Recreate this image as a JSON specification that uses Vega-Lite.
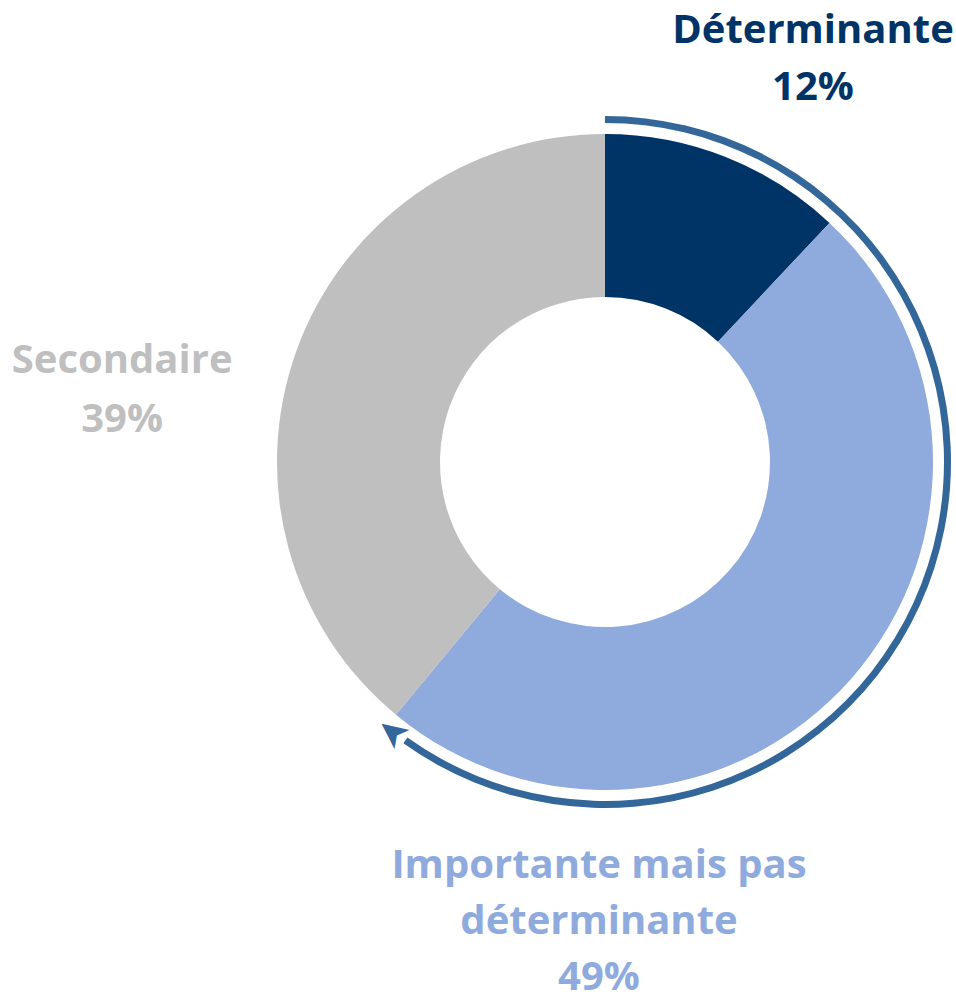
{
  "$schema": "https://vega.github.io/schema/vega-lite/v6.json",
  "width": 702,
  "height": 924,
  "autosize": {"type": "none"},
  "padding": {"left": 254, "top": 0, "right": 0, "bottom": 72},
  "background": "white",
  "config": {"view": {"stroke": null}},
  "datasets": {
    "parts": [
      {"categorie": "Déterminante", "valeur": 12, "etiquette": "Déterminante\n12%"},
      {"categorie": "Importante mais pas déterminante", "valeur": 49, "etiquette": "Importante mais pas\ndéterminante\n49%"},
      {"categorie": "Secondaire", "valeur": 39, "etiquette": "Secondaire\n39%"}
    ],
    "fleche": [{"debut": 0, "fin": 59.9, "pointe": 60.6}]
  },
  "layer": [
    {
      "data": {"name": "parts"},
      "mark": {"type": "arc", "innerRadius": 165, "outerRadius": 328},
      "encoding": {
        "theta": {"field": "valeur", "type": "quantitative", "stack": true, "scale": {"domain": [0, 100]}},
        "order": {"field": "categorie", "type": "ordinal", "sort": "ascending"},
        "color": {
          "field": "categorie", "type": "nominal", "legend": null,
          "scale": {"domain": ["Déterminante", "Importante mais pas déterminante", "Secondaire"], "range": ["#003366", "#8FAADC", "#BFBFBF"]}
        }
      }
    },
    {
      "data": {"name": "fleche"},
      "mark": {"type": "arc", "innerRadius": 339, "outerRadius": 346, "color": "#336699"},
      "encoding": {
        "theta": {"field": "debut", "type": "quantitative", "stack": null, "scale": {"domain": [0, 100]}},
        "theta2": {"field": "fin"}
      }
    },
    {
      "data": {"name": "fleche"},
      "mark": {"type": "text", "text": "➤", "font": "DejaVu Sans", "fontSize": 38, "radius": 343, "angle": 218, "align": "center", "baseline": "middle", "color": "#336699"},
      "encoding": {
        "theta": {"field": "pointe", "type": "quantitative", "stack": null, "scale": {"domain": [0, 100]}}
      }
    },
    {
      "data": {"name": "parts"},
      "transform": [{"filter": "datum.categorie === 'Déterminante'"}],
      "mark": {"type": "text", "font": "Open Sans", "fontWeight": "bold", "fontSize": 40, "lineHeight": 57, "lineBreak": "\n", "align": "center", "baseline": "alphabetic", "radius": 468},
      "encoding": {
        "theta": {"datum": 7.33, "type": "quantitative", "scale": {"domain": [0, 100]}},
        "text": {"field": "etiquette"},
        "color": {"field": "categorie", "type": "nominal", "legend": null}
      }
    },
    {
      "data": {"name": "parts"},
      "transform": [{"filter": "datum.categorie === 'Secondaire'"}],
      "mark": {"type": "text", "font": "Open Sans", "fontWeight": "bold", "fontSize": 40, "lineHeight": 59, "lineBreak": "\n", "align": "center", "baseline": "alphabetic", "radius": 491},
      "encoding": {
        "theta": {"datum": 77.9, "type": "quantitative", "scale": {"domain": [0, 100]}},
        "text": {"field": "etiquette"},
        "color": {"field": "categorie", "type": "nominal", "legend": null}
      }
    },
    {
      "data": {"name": "parts"},
      "transform": [{"filter": "datum.categorie === 'Importante mais pas déterminante'"}],
      "mark": {"type": "text", "font": "Open Sans", "fontWeight": "bold", "fontSize": 40, "lineHeight": 56, "lineBreak": "\n", "align": "center", "baseline": "alphabetic", "radius": 416},
      "encoding": {
        "theta": {"datum": 50.23, "type": "quantitative", "scale": {"domain": [0, 100]}},
        "text": {"field": "etiquette"},
        "color": {"field": "categorie", "type": "nominal", "legend": null}
      }
    }
  ]
}
